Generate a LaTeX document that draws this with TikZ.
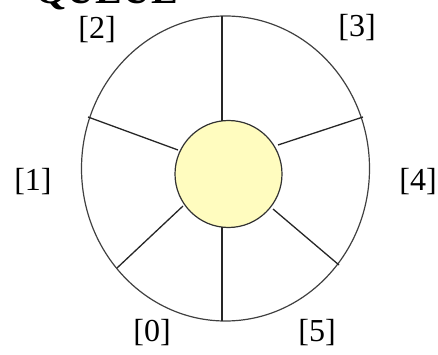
\documentclass[tikz,border=0pt]{standalone}
\usepackage{fontspec}
\setmainfont{Liberation Serif}
\begin{document}
\begin{tikzpicture}[x=1pt,y=-1pt,
  rim/.style={draw=black!75,line width=1.2pt},
  spoke/.style={draw=black!85,line width=1.3pt},
  hub/.style={circle,draw=black!80,line width=1.2pt,fill=yellow!25,minimum size=107pt,inner sep=0pt},
  idx/.style={font=\fontsize{32}{36}\selectfont,inner sep=0pt},
  ttl/.style={font=\bfseries\fontsize{40}{44}\selectfont,inner sep=0pt,anchor=base east}]
\useasboundingbox (0,0) rectangle (438,355);
\node[ttl] (title) at (178,4) {QUEUE};
\draw[rim] (225.5,168.5) ellipse [x radius=144, y radius=152.5];
\node[hub] (hub) at (228.5,174) {};
% spoke ends
\coordinate (t0) at (222,16);   \coordinate (h0) at (222,121);
\coordinate (t1) at (88,117);   \coordinate (h1) at (178,150);
\coordinate (t2) at (363,117);  \coordinate (h2) at (278,145);
\coordinate (t3) at (117,268);  \coordinate (h3) at (183,206);
\coordinate (t4) at (339,265);  \coordinate (h4) at (273,209);
\coordinate (t5) at (222,321);  \coordinate (h5) at (222,227);
\foreach \i in {0,...,5} \draw[spoke] (h\i) -- (t\i);
\node[idx] (l2) at (97,30) {[2]};
\node[idx] (l3) at (357,28) {[3]};
\node[idx] (l1) at (33,182) {[1]};
\node[idx] (l4) at (418,182) {[4]};
\node[idx] (l0) at (152,333) {[0]};
\node[idx] (l5) at (317,333) {[5]};
\end{tikzpicture}
\end{document}
